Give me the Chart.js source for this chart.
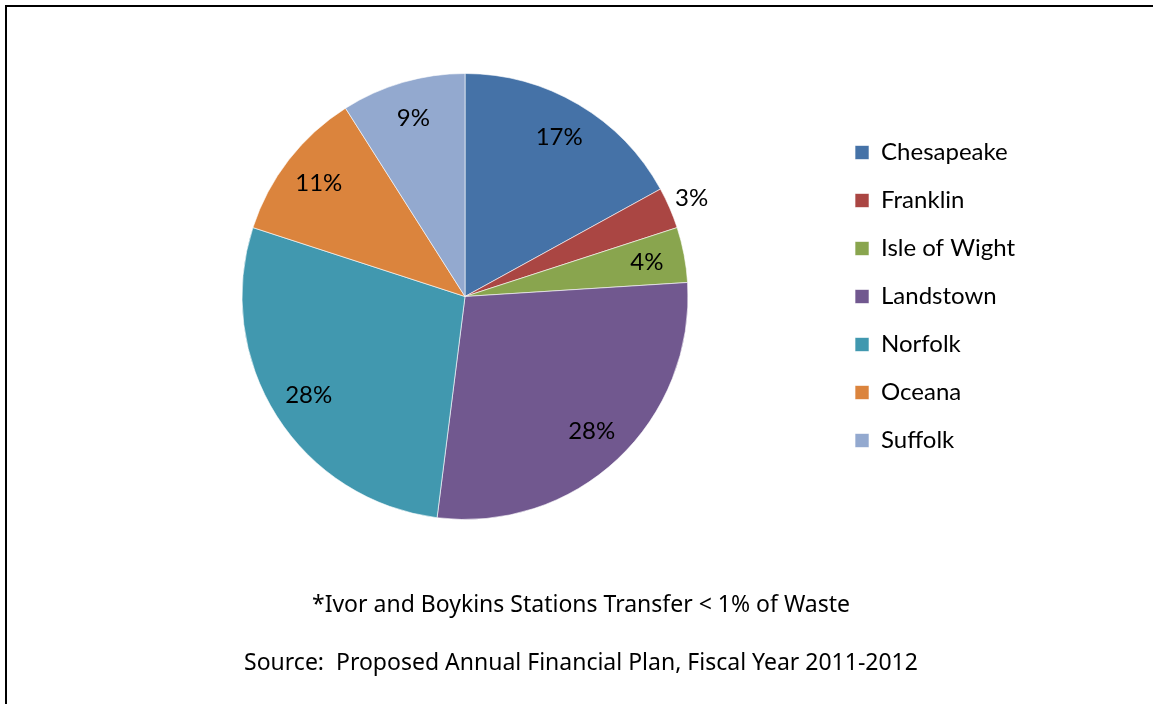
<!DOCTYPE html>
<html>
<head>
<meta charset="utf-8">
<script src="https://cdn.jsdelivr.net/npm/chart.js@4.4.1/dist/chart.umd.min.js"></script>
<style>
  html, body { margin: 0; padding: 0; background: #fff; overflow: hidden; }
  #wrap { position: relative; width: 1153px; height: 704px; }
  #frame { position: absolute; left: 5px; top: 5px; width: 1300px; height: 900px; border: 2px solid #000; box-sizing: border-box; }
  #chart { position: absolute; left: 0; top: 0; }
  .note { position: absolute; left: 0; width: 1162px; text-align: center; font-family: "Noto Sans", sans-serif; font-size: 23px; color: #000; white-space: pre; }
</style>
</head>
<body>
<div id="wrap">
  <div id="frame"></div>
  <canvas id="chart" width="1153" height="704"></canvas>
  <div class="note" style="top: 587px;">*Ivor and Boykins Stations Transfer &lt; 1% of Waste</div>
  <div class="note" style="top: 645px;">Source:  Proposed Annual Financial Plan, Fiscal Year 2011-2012</div>
</div>
<script>
window.addEventListener('DOMContentLoaded', () => {
  // share of waste by transfer station (%)
  const stations = ['Chesapeake', 'Franklin', 'Isle of Wight', 'Landstown', 'Norfolk', 'Oceana', 'Suffolk'];
  const shares = [17, 3, 4, 28, 28, 11, 9];
  const colors = ['#4572A7', '#AA4643', '#89A54E', '#71588F', '#4198AF', '#DB843D', '#93A9CF'];

  const fontFamily = 'Lato';
  const fontSize = 24;

  const canvas = document.getElementById('chart');
  const ctx = canvas.getContext('2d');

  // work out legend width so the pie sits where we want it
  // (chart.js adds 10px to a vertical legend's width)
  ctx.font = fontSize + 'px ' + fontFamily;
  const widest = Math.max(...stations.map(s => ctx.measureText(s).width));
  const legendPad = 24;
  const boxSize = 14;
  const legendLeft = 831;
  const legendWidth = legendPad + boxSize + fontSize / 2 + widest + 10;
  const padRight = Math.round(canvas.width - legendLeft - legendWidth);

  // percentage labels on the slices, small ones pushed outside
  const sliceLabels = {
    id: 'sliceLabels',
    afterDatasetsDraw(chart) {
      const c = chart.ctx;
      const meta = chart.getDatasetMeta(0);
      c.save();
      c.font = fontSize + 'px ' + fontFamily;
      c.fillStyle = '#000';
      c.textAlign = 'center';
      c.textBaseline = 'middle';
      meta.data.forEach((arc, i) => {
        const p = arc.getProps(['x', 'y', 'startAngle', 'endAngle', 'outerRadius'], true);
        const mid = (p.startAngle + p.endAngle) / 2;
        const v = chart.data.datasets[0].data[i];
        const r = v < 4 ? p.outerRadius + 24 : p.outerRadius * 0.83;
        c.fillText(v + '%', p.x + Math.cos(mid) * r, p.y + Math.sin(mid) * r);
      });
      c.restore();
    }
  };

  new Chart(ctx, {
    type: 'pie',
    data: {
      labels: stations,
      datasets: [{
        data: shares,
        backgroundColor: colors,
        borderColor: 'rgba(255,255,255,0.6)',
        borderWidth: 1
      }]
    },
    options: {
      responsive: false,
      animation: false,
      layout: {
        padding: { left: 99, right: padRight, top: 73, bottom: 184 }
      },
      plugins: {
        legend: {
          position: 'right',
          labels: {
            boxWidth: boxSize,
            boxHeight: boxSize,
            padding: legendPad,
            color: '#000',
            font: { family: fontFamily, size: fontSize }
          }
        },
        tooltip: { enabled: false }
      }
    },
    plugins: [sliceLabels]
  });
});
</script>
</body>
</html>
